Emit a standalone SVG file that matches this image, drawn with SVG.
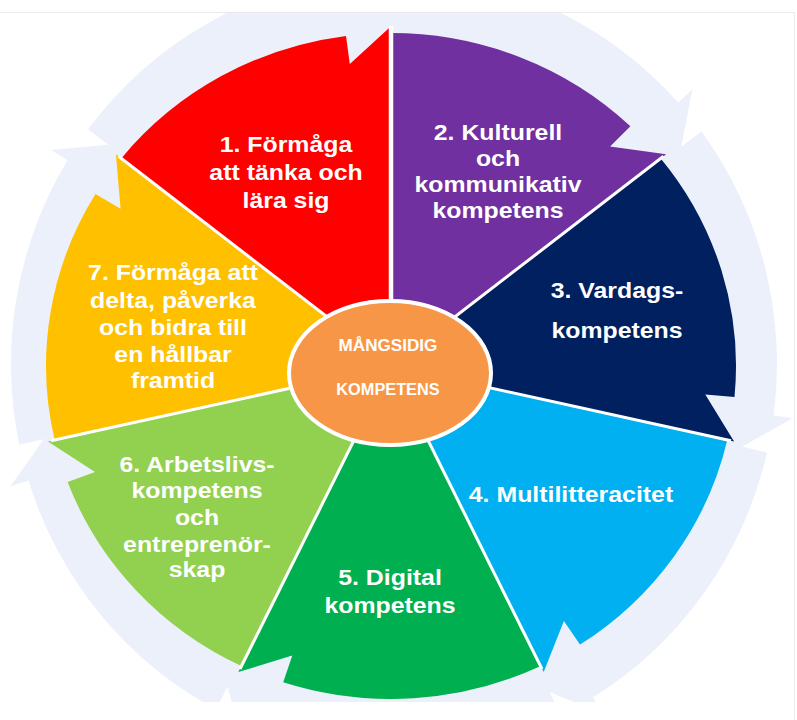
<svg xmlns="http://www.w3.org/2000/svg" width="797" height="720" viewBox="0 0 797 720">
<defs>
<clipPath id="crop"><rect x="0" y="13" width="794" height="689"/></clipPath>
<style>
.ring{fill:#ECF0FA}
.div{stroke:#FFFFFF;stroke-width:3;stroke-linecap:butt}
.lbl{font-family:"Liberation Sans",Arial,sans-serif;font-weight:bold;font-size:22px;fill:#FFFFFF;text-anchor:middle}
.ctr{font-family:"Liberation Sans",Arial,sans-serif;font-weight:bold;font-size:16px;fill:#FFFFFF;text-anchor:middle}
</style>
</defs>
<rect width="797" height="720" fill="#FFFFFF"/>
<g id="frame" stroke="#EBEBEB" stroke-width="1" fill="none">
<line x1="0" y1="12.5" x2="794.5" y2="12.5"/>
<line x1="794.5" y1="12.5" x2="794.5" y2="720"/>
</g>
<g id="connectors" clip-path="url(#crop)">
<path class="ring" d="M394,83.2 L394,-26 A383,390 0 0 1 678.2,102.5 L692.4,89.5 L677.7,164.7 L598.6,175.7 A275.8,280.8 0 0 0 394,83.2 Z"/>
<path class="ring" d="M615.4,196.6 L701.5,131.5 A383,390 0 0 1 773.6,415.6 L792.6,418.2 L726.8,455.4 L667.4,401.2 A275.8,280.8 0 0 0 615.4,196.6 Z"/>
<path class="ring" d="M662.6,427.7 L767,452.4 A383,390 0 0 1 593,697.3 L602.9,713.9 L533.1,685.2 L537.3,604 A275.8,280.8 0 0 0 662.6,427.7 Z"/>
<path class="ring" d="M514,616.8 L560.7,715.1 A383,390 0 0 1 249.3,725.1 L242.1,743.2 L223.2,668.9 L289.8,624 A275.8,280.8 0 0 0 514,616.8 Z"/>
<path class="ring" d="M265.8,612.6 L216,709.3 A383,390 0 0 1 28.5,480.6 L10.3,486.4 L54.4,424.3 L130.8,448 A275.8,280.8 0 0 0 265.8,612.6 Z"/>
<path class="ring" d="M124.1,421.9 L19.2,444.4 A383,390 0 0 1 67.5,160.2 L51.1,150 L126.1,143.1 L158.9,217.3 A275.8,280.8 0 0 0 124.1,421.9 Z"/>
<path class="ring" d="M173.8,195 L88.1,129.3 A383,390 0 0 1 357.3,-24.2 L355.5,-43.6 L406,13.2 L367.6,84.5 A275.8,280.8 0 0 0 173.8,195 Z"/>
</g>
<g id="seg1">
<path fill="#FF0000" d="M391,366 L121.3,158.4 A345,333 0 0 1 346,35.9 L349.8,63.9 L391,26.3 Z"/>
<text class="lbl" transform="translate(286 0) scale(1.13 1)"><tspan x="0" y="152">1. Förmåga</tspan><tspan x="0" y="180">att tänka och</tspan><tspan x="0" y="208">lära sig</tspan></text>
</g>
<g id="seg2">
<path fill="#7030A0" d="M391,366 L391,33 A345,333 0 0 1 630.4,126.2 L610.1,146.6 L666.1,154.2 Z"/>
<text class="lbl" transform="translate(498 0) scale(1.13 1)"><tspan x="0" y="140">2. Kulturell</tspan><tspan x="0" y="166">och</tspan><tspan x="0" y="192">kommunikativ</tspan><tspan x="0" y="218">kompetens</tspan></text>
</g>
<g id="seg3">
<path fill="#002060" d="M391,366 L660.7,158.4 A345,333 0 0 1 734.5,397.1 L705.3,394.5 L734.1,441.6 Z"/>
<text class="lbl" transform="translate(617 0) scale(1.13 1)"><tspan x="0" y="298">3. Vardags-</tspan><tspan x="0" y="338">kompetens</tspan></text>
</g>
<g id="seg4">
<path fill="#00B0F0" d="M391,366 L727.3,440.1 A345,333 0 0 1 580,644.6 L563.9,620.9 L543.7,672.1 Z"/>
<text class="lbl" transform="translate(571 0) scale(1.13 1)"><tspan x="0" y="502">4. Multilitteracitet</tspan></text>
</g>
<g id="seg5">
<path fill="#00B050" d="M391,366 L540.7,666 A345,333 0 0 1 283.2,682.3 L292.3,655.4 L238.3,672.1 Z"/>
<text class="lbl" transform="translate(390 0) scale(1.13 1)"><tspan x="0" y="585">5. Digital</tspan><tspan x="0" y="613">kompetens</tspan></text>
</g>
<g id="seg6">
<path fill="#92D050" d="M391,366 L241.3,666 A345,333 0 0 1 67.6,481.9 L95,472 L47.9,441.6 Z"/>
<text class="lbl" transform="translate(197 0) scale(1.13 1)"><tspan x="0" y="472">6. Arbetslivs-</tspan><tspan x="0" y="498">kompetens</tspan><tspan x="0" y="525">och</tspan><tspan x="0" y="552">entreprenör-</tspan><tspan x="0" y="577">skap</tspan></text>
</g>
<g id="seg7">
<path fill="#FFC000" d="M391,366 L54.7,440.1 A345,333 0 0 1 95.5,194.1 L120.6,208.7 L115.9,154.2 Z"/>
<text class="lbl" transform="translate(173 0) scale(1.13 1)"><tspan x="0" y="280">7. Förmåga att</tspan><tspan x="0" y="308">delta, påverka</tspan><tspan x="0" y="335">och bidra till</tspan><tspan x="0" y="362">en hållbar</tspan><tspan x="0" y="388">framtid</tspan></text>
</g>
<g id="dividers">
<line class="div" style="stroke-width:4.5" x1="391" y1="366" x2="391" y2="26"/>
<line class="div" x1="391" y1="366" x2="663.5" y2="156.3"/>
<line class="div" x1="391" y1="366" x2="731" y2="440.8"/>
<line class="div" x1="391" y1="366" x2="542" y2="669"/>
<line class="div" x1="391" y1="366" x2="240" y2="669"/>
<line class="div" x1="391" y1="366" x2="51" y2="440.8"/>
<line class="div" x1="391" y1="366" x2="118.5" y2="156.3"/>
</g>
<g id="center">
<ellipse cx="390" cy="373" rx="101" ry="72" fill="#F79646" stroke="#FFFFFF" stroke-width="4"/>
<text class="ctr" transform="translate(388 0) scale(1.07 1)" x="0" y="351">MÅNGSIDIG</text>
<text class="ctr" transform="translate(388 0) scale(1.02 1)" x="0" y="395">KOMPETENS</text>
</g>
</svg>
